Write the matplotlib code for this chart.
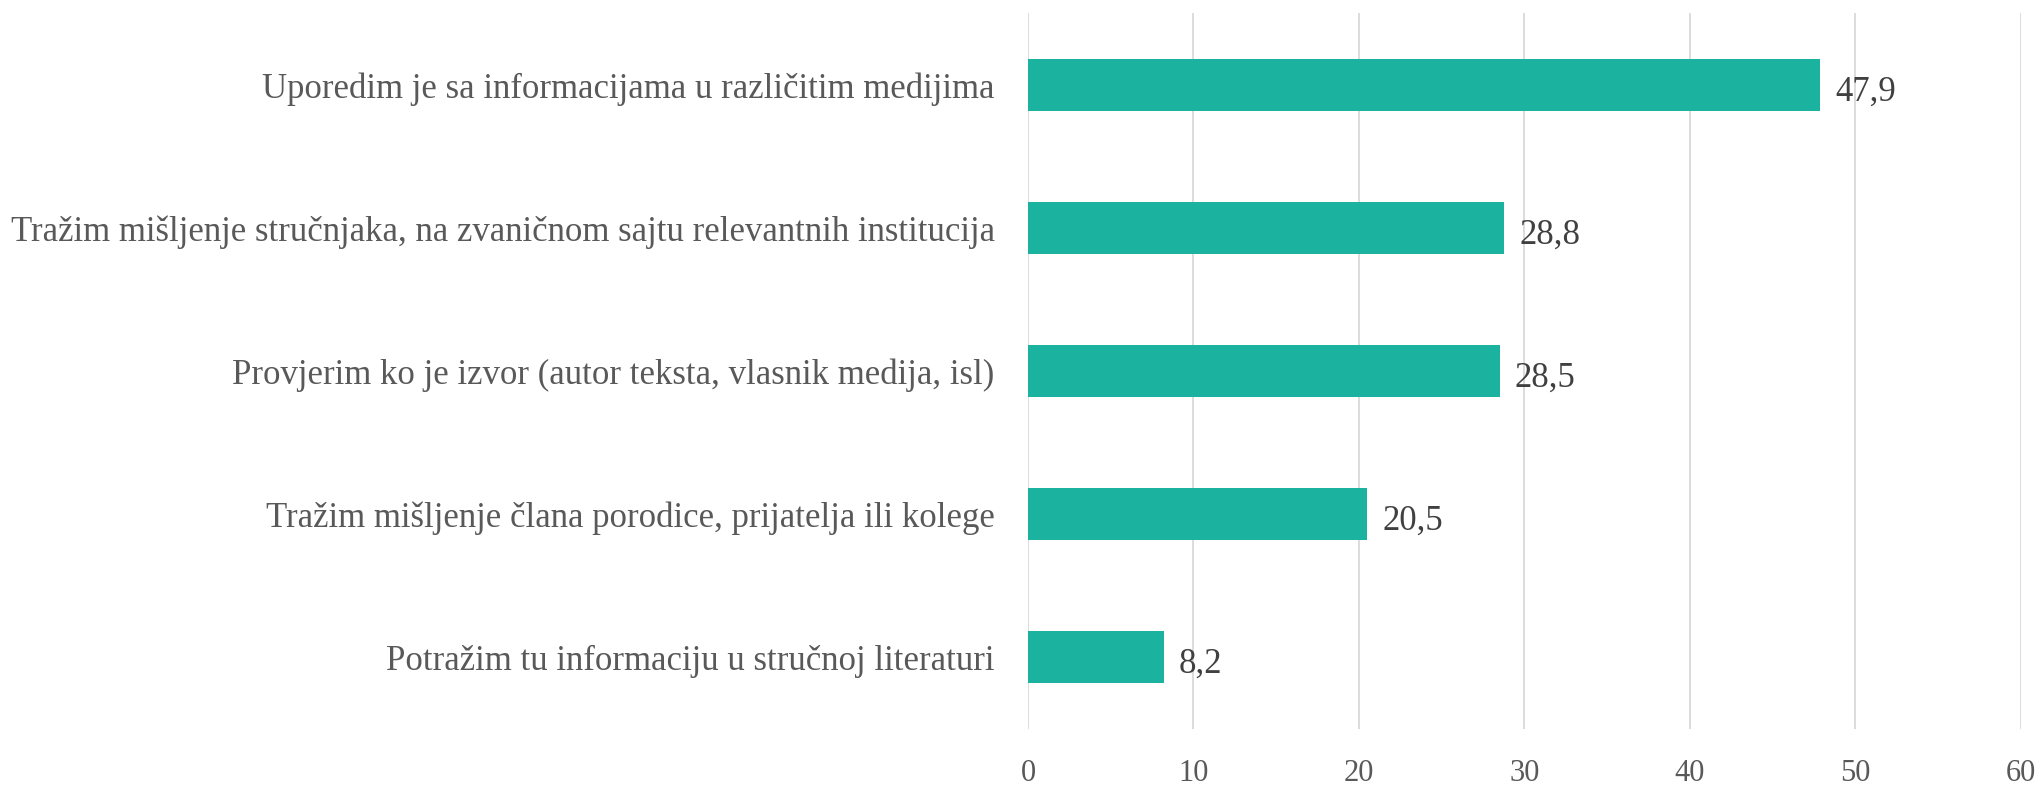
import numpy as np
import matplotlib.pyplot as plt

categories = [
    'Uporedim je sa informacijama u različitim medijima',
    'Tražim mišljenje stručnjaka, na zvaničnom sajtu relevantnih institucija',
    'Provjerim ko je izvor (autor teksta, vlasnik medija, isl)',
    'Tražim mišljenje člana porodice, prijatelja ili kolege',
    'Potražim tu informaciju u stručnoj literaturi',
]
values = [47.9, 28.8, 28.5, 20.5, 8.2]
value_labels = ['47,9', '28,8', '28,5', '20,5', '8,2']
xticks = [0, 10, 20, 30, 40, 50, 60]

plt.rcParams['font.family'] = ['Liberation Serif', 'DejaVu Serif']

fig = plt.figure(figsize=(20.41, 7.87), dpi=100)
ax = fig.add_axes([0.5037, 0.074, 0.4863, 0.909])

y = np.arange(len(categories))
ax.barh(y, values, height=0.36, color='#1BB3A0', zorder=3)
for yi, v, lab in zip(y, values, value_labels):
    ax.text(v + 0.9, yi + 0.05, lab, va='center', ha='left', fontsize=25, color='#404040')

ax.set_ylim(len(categories) - 0.5, -0.5)
ax.set_xlim(0, 60)
ax.set_yticks(y)
ax.set_yticklabels(categories, fontsize=25, color='#595959')
ax.set_xticks(xticks)
ax.set_xticklabels([str(t) for t in xticks], fontsize=22, color='#595959')
ax.tick_params(axis='both', length=0)
ax.tick_params(axis='y', pad=24)
ax.tick_params(axis='x', pad=22)
ax.xaxis.grid(True, color='#D9D9D9', linewidth=1.3, zorder=0)
for s in ax.spines.values():
    s.set_visible(False)

fig.savefig('out.png', dpi=100)
